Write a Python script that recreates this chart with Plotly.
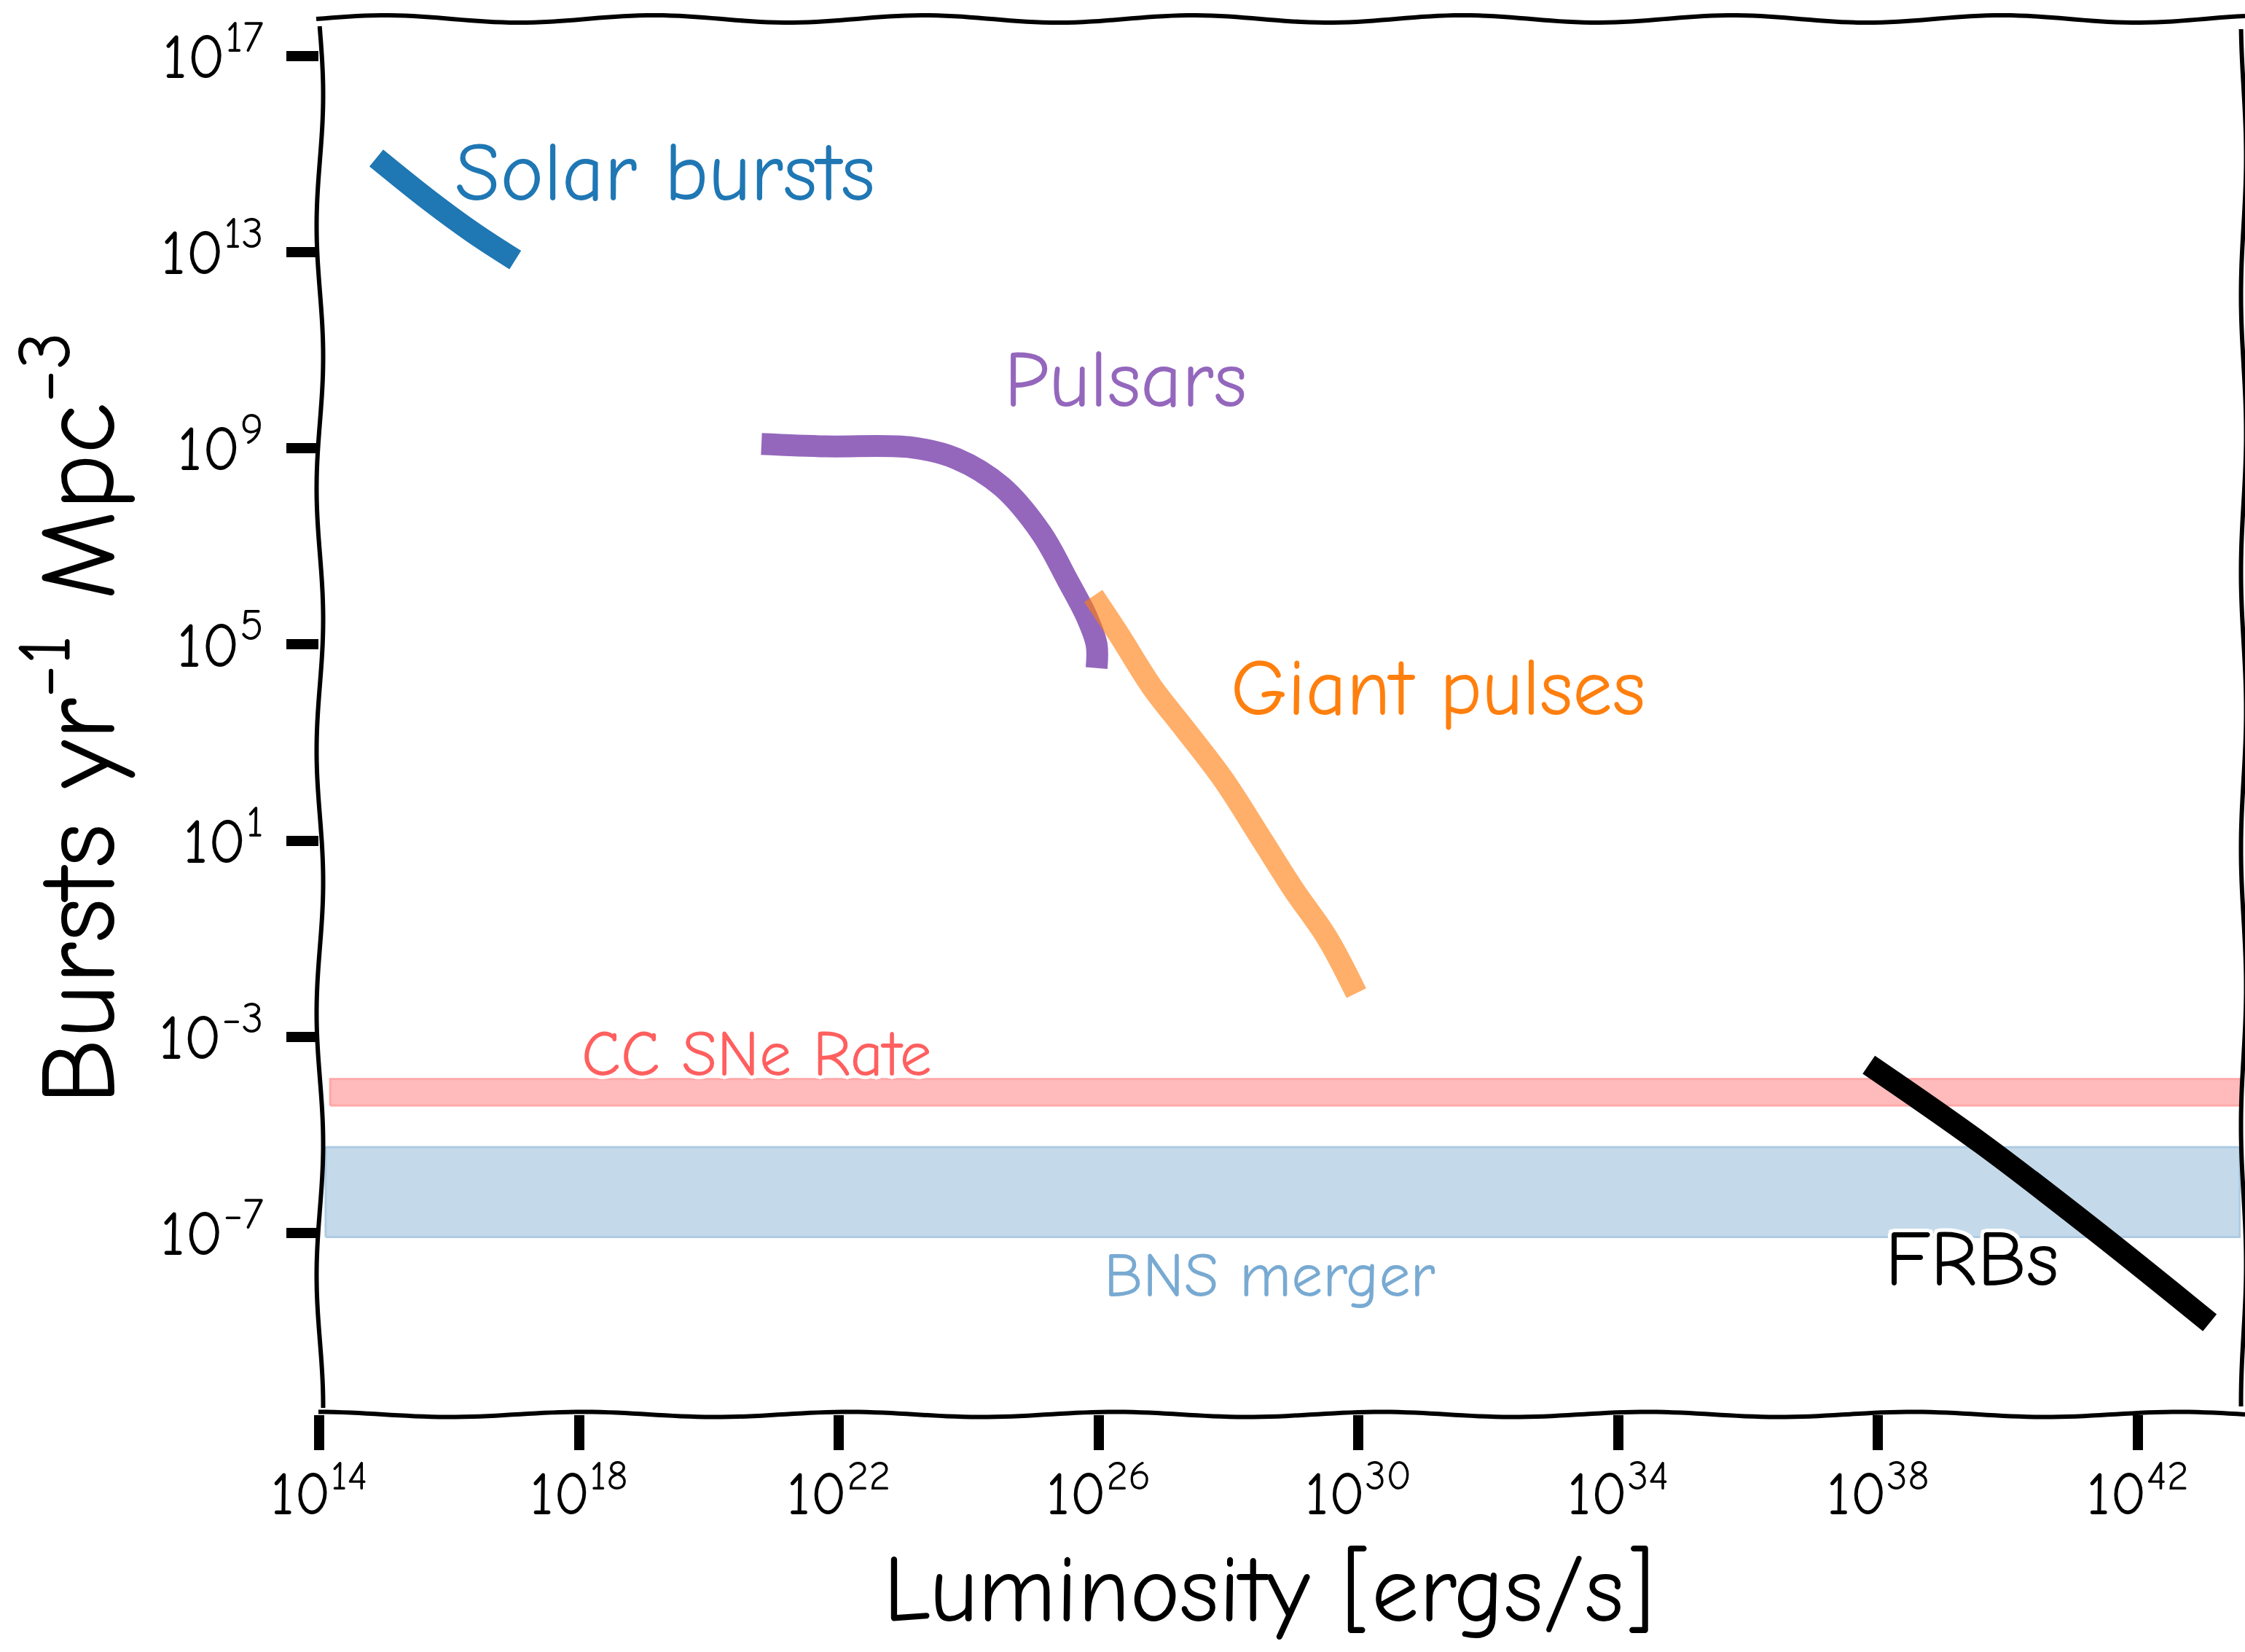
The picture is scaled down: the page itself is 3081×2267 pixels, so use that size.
import numpy as np
import plotly.graph_objects as go

# ---- data (log10 luminosity [erg/s], log10 rate [bursts / yr / Mpc^3]) ----
solar_logL = [14.88, 15.70, 16.37, 17.02]
solar_logR = [14.92, 14.05, 13.40, 12.84]

pulsar_logL = [20.81, 21.81, 23.11, 23.81, 24.51, 25.12, 25.52, 25.82, 25.97, 25.97]
pulsar_logR = [9.09, 9.04, 9.02, 8.79, 8.22, 7.27, 6.32, 5.56, 5.00, 4.52]

giant_logL = [25.92, 26.32, 26.82, 27.32, 27.92, 28.52, 29.02, 29.52, 29.97]
giant_logR = [5.99, 5.19, 4.14, 3.29, 2.25, 1.01, -0.03, -0.98, -2.11]

frb_logL = [37.86, 39.60, 41.40, 43.11]
frb_logR = [-3.57, -5.18, -7.01, -8.83]

# horizontal rate bands: [low, high]
ccsne_logL = [14.17, 43.58]
ccsne_logR = [-4.40, -3.86]
bns_logL = [14.10, 43.57]
bns_logR = [-7.08, -5.25]

x_tick_exp = [14, 18, 22, 26, 30, 34, 38, 42]
y_tick_exp = [17, 13, 9, 5, 1, -3, -7]

x_range = [14.0, 43.63]
y_range = [-10.7, 17.785]

FONT = "Comic Sans MS, Comic Neue, Humor Sans, Noto Sans, sans-serif"

W, H = 3081, 2267
ML, MR, MT, MB = 438, 2, 24, 326
PW, PH = W - ML - MR, H - MT - MB


def pow10(v):
    return [10.0 ** a for a in v]


def sup(e):
    s = str(e).replace("-", "\u2212")
    return f"10<sup>{s}</sup>"


def band(lx, ly):
    xs = pow10([lx[0], lx[1], lx[1], lx[0], lx[0]])
    ys = pow10([ly[0], ly[0], ly[1], ly[1], ly[0]])
    return xs, ys


fig = go.Figure()

# rate bands
bx, by = band(bns_logL, bns_logR)
fig.add_trace(go.Scatter(x=bx, y=by, mode="lines", fill="toself",
                         fillcolor="#c4daea", line=dict(color="#aecbe3", width=3),
                         hoverinfo="skip", showlegend=False))
cx, cy = band(ccsne_logL, ccsne_logR)
fig.add_trace(go.Scatter(x=cx, y=cy, mode="lines", fill="toself",
                         fillcolor="#ffbbbb", line=dict(color="#ffa8a8", width=3),
                         hoverinfo="skip", showlegend=False))

# source curves
LW = 30
fig.add_trace(go.Scatter(x=pow10(solar_logL), y=pow10(solar_logR), mode="lines",
                         line=dict(color="#1f77b4", width=LW, shape="spline"),
                         showlegend=False))
fig.add_trace(go.Scatter(x=pow10(pulsar_logL), y=pow10(pulsar_logR), mode="lines",
                         line=dict(color="#9467bd", width=LW, shape="spline"),
                         showlegend=False))
fig.add_trace(go.Scatter(x=pow10(giant_logL), y=pow10(giant_logR), mode="lines",
                         line=dict(color="#ff7f0e", width=LW, shape="spline"),
                         opacity=0.62, showlegend=False))
fig.add_trace(go.Scatter(x=pow10(frb_logL), y=pow10(frb_logR), mode="lines",
                         line=dict(color="black", width=LW, shape="spline"),
                         showlegend=False))

halo = ("-4px -4px 0 #fff, 4px -4px 0 #fff, -4px 4px 0 #fff, 4px 4px 0 #fff, "
        "0 5px 0 #fff, 0 -5px 0 #fff, 5px 0 0 #fff, -5px 0 0 #fff")

labels = [
    ("Solar bursts", 16.06, 14.62, "#1f77b4", 113),
    ("Pulsars", 24.52, 10.40, "#9467bd", 110),
    ("Giant pulses", 28.01, 4.10, "#ff7f0e", 109),
    ("CC SNe Rate", 18.02, -3.36, "#ff5f5f", 88),
    ("BNS merger", 26.06, -7.89, "#78aad2", 86),
    ("FRBs", 38.09, -7.53, "black", 108),
]
for txt, lx, ly, col, sz in labels:
    fig.add_annotation(x=lx, y=ly, xref="x", yref="y", text=txt, showarrow=False,
                       xanchor="left", yanchor="middle",
                       font=dict(family=FONT, size=sz, color=col, shadow=halo))

# axis titles
fig.add_annotation(x=(1741 - ML) / PW, y=(H - MB - 2182) / PH, xref="paper", yref="paper",
                   text="Luminosity [ergs/s]", showarrow=False,
                   xanchor="center", yanchor="middle",
                   font=dict(family=FONT, size=130, color="black"))
fig.add_annotation(x=(98 - ML) / PW, y=(H - MB - 986) / PH, xref="paper", yref="paper",
                   text="Bursts yr<sup>\u22121</sup> Mpc<sup>\u22123</sup>", showarrow=False,
                   textangle=-90, xanchor="center", yanchor="middle",
                   font=dict(family=FONT, size=146, color="black"))


# hand-drawn looking frame
def to_paper(px, py):
    return (px - ML) / PW, (H - MB - py) / PH


def wavy_path(points):
    xs, ys = zip(*[to_paper(a, b) for a, b in points])
    return "M " + " L ".join(f"{x:.5f},{y:.5f}" for x, y in zip(xs, ys))


t = np.linspace(0, 1, 240)
frame = []
# bottom
bx_px = 437 + t * (W - 437)
frame.append(list(zip(bx_px, 1941 + 3.5 * np.sin(2 * np.pi * (bx_px - 526) / 365))))
# top
tx_px = 434 + t * (W - 434)
frame.append(list(zip(tx_px, 26 + 5.0 * np.sin(2 * np.pi * (tx_px - 250) / 370))))
# left
ly_px = 36 + t * (1932 - 36)
frame.append(list(zip(439 + 4.5 * np.sin(2 * np.pi * (ly_px - 40) / 360), ly_px)))
# right
ry_px = 40 + t * (1930 - 40)
frame.append(list(zip(3079 + 3.5 * np.sin(2 * np.pi * (ry_px - 120) / 380), ry_px)))

for pts in frame:
    fig.add_shape(type="path", path=wavy_path(pts), xref="paper", yref="paper",
                  line=dict(color="black", width=6), layer="above")

xtickfont = dict(family=FONT, size=82, color="black")
ytickfont = dict(family=FONT, size=86, color="black")
fig.update_xaxes(type="log", range=x_range, showgrid=False, zeroline=False,
                 showline=False, ticks="outside", ticklen=48, tickwidth=14,
                 tickcolor="black", tickvals=pow10(x_tick_exp),
                 ticktext=[sup(e) for e in x_tick_exp], tickfont=xtickfont,
                 ticklabelstandoff=-10)
fig.update_yaxes(type="log", range=y_range, showgrid=False, zeroline=False,
                 showline=False, ticks="outside", ticklen=44, tickwidth=14,
                 tickcolor="black", tickvals=pow10(y_tick_exp),
                 ticktext=[sup(e) for e in y_tick_exp], tickfont=ytickfont,
                 ticklabelstandoff=14)

fig.update_layout(width=W, height=H, margin=dict(l=ML, r=MR, t=MT, b=MB),
                  plot_bgcolor="white", paper_bgcolor="white", showlegend=False)

fig.write_html("out.html")
